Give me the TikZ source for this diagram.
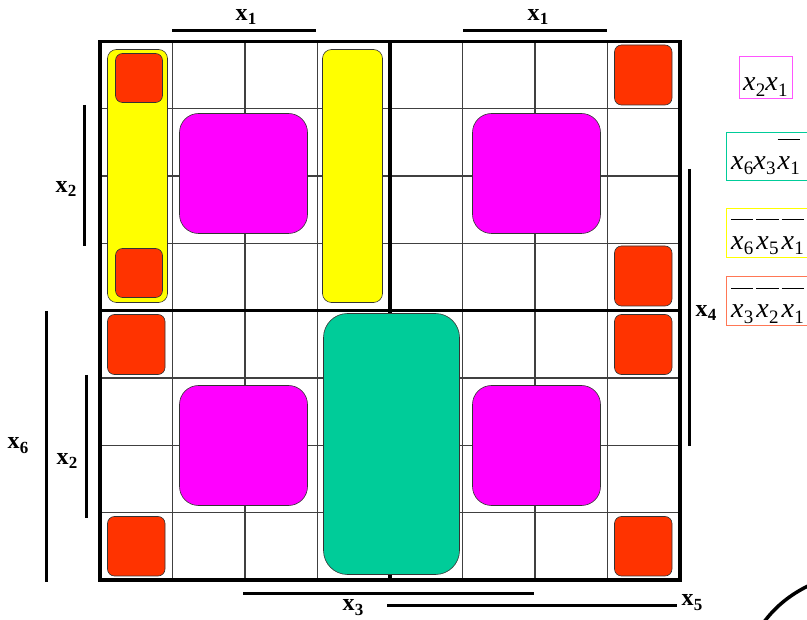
\documentclass[tikz,border=0pt]{standalone}
\usepackage{fontspec}
\setmainfont{Liberation Serif}
\newcommand\bx[1]{\textbf{x}\kern0.3pt\raisebox{-0.45ex}{\fontsize{17}{17}\selectfont\bfseries #1}}
\newcommand\ix[1]{\textit{x}\kern0.3pt\raisebox{-0.4ex}{\fontsize{19}{19}\selectfont #1}}
\newsavebox\oxbox
\newcommand\ox[1]{\sbox\oxbox{\ix{#1}}\rlap{\raisebox{1.04em}{\rule{\wd\oxbox}{0.9pt}}}\usebox\oxbox\kern3pt}
\definecolor{kred}{HTML}{FF3300}
\definecolor{kmag}{HTML}{FF00FF}
\definecolor{kyel}{HTML}{FFFF00}
\definecolor{kgrn}{HTML}{00CC99}
\definecolor{kcor}{HTML}{FF7755}
\definecolor{kmagb}{HTML}{FF55FF}
\begin{document}
\begin{tikzpicture}[x=1pt,y=-1pt,
  gridthin/.style={draw=black!75, line width=1.3pt},
  gridthick/.style={draw=black, line width=3.2pt},
  redbox/.style={fill=kred, draw=black!80, line width=0.6pt, rounded corners=7pt},
  magbox/.style={fill=kmag, draw=black!80, line width=0.6pt, rounded corners=19pt},
  yelbox/.style={fill=kyel, draw=black!80, line width=0.6pt, rounded corners=9pt},
  grnbox/.style={fill=kgrn, draw=black!80, line width=0.6pt, rounded corners=24pt},
  bar/.style={draw=black, line width=3pt},
  lab/.style={font=\fontsize{24}{24}\selectfont, inner sep=0pt},
  leg/.style={font=\fontsize{28}{28}\selectfont, inner sep=0pt, anchor=base west},
  legbox/.style={line width=1pt}
]
\useasboundingbox (0,0) rectangle (807,620);
% thin grid
\foreach \i in {1,2,3,5,6,7} {
  \draw[gridthin] ({100+72.5*\i},41.5) -- ({100+72.5*\i},580);
  \draw[gridthin] (100,{41.5+67.3125*\i}) -- (680,{41.5+67.3125*\i});
}
% thick grid
\draw[gridthick] (100,41.5) rectangle (680,580);
\draw[gridthick] (390,41.5) -- (390,580);
\draw[gridthick] (100,310.75) -- (680,310.75);
% yellow groups
\draw[yelbox] (107.5,49.5) rectangle (167.5,302.5);
\draw[yelbox] (322.5,49.5) rectangle (382.5,302.5);
% red squares
\draw[redbox] (115.5,53.5) rectangle (162.5,102.5);
\draw[redbox] (115.5,248.5) rectangle (162.5,297.5);
\draw[redbox] (614.5,45) rectangle (672,105);
\draw[redbox] (614.5,246) rectangle (672,306);
\draw[redbox] (107.5,314.5) rectangle (165,374.5);
\draw[redbox] (107.5,516.5) rectangle (165,576);
\draw[redbox] (614.5,314.5) rectangle (672,374.5);
\draw[redbox] (614.5,516.5) rectangle (672,576);
% magenta
\draw[magbox] (179.5,113.5) rectangle (307.5,233.5);
\draw[magbox] (472.5,113.5) rectangle (600.5,233.5);
\draw[magbox] (179.5,385.5) rectangle (307.5,505.5);
\draw[magbox] (472.5,385.5) rectangle (600.5,505.5);
% green
\draw[grnbox] (323.5,313.5) rectangle (459.5,574.5);
% variable bars
\draw[bar] (172,30.5) -- (316,30.5);
\node[lab] (t1) at (246,17) {\bx{1}};
\draw[bar] (463,30.5) -- (607,30.5);
\node[lab] (t2) at (538,17) {\bx{1}};
\draw[bar] (84.5,105) -- (84.5,246);
\node[lab] (l1) at (66,189) {\bx{2}};
\draw[bar] (46,311) -- (46,582);
\node[lab] (l2) at (18,446) {\bx{6}};
\draw[bar] (86,375) -- (86,518);
\node[lab] (l3) at (67,461) {\bx{2}};
\draw[bar] (689.5,169) -- (689.5,446);
\node[lab] (r1) at (706,313) {\bx{4}};
\draw[bar] (243,594) -- (534,594);
\node[lab] (b1) at (353,608) {\bx{3}};
\draw[bar] (387,605.5) -- (677,605.5);
\node[lab] (b2) at (692,603) {\bx{5}};
% legend
\draw[legbox, draw=kmagb] (739,56.5) rectangle (792.5,98.5);
\node[leg] (g1) at (743,91) {\ix{2}\ix{1}};
\draw[legbox, draw=kgrn] (726.5,132.5) rectangle (812,181);
\node[leg] (g2) at (731,169.5) {\ix{6}\ix{3}\kern2pt\ox{1}};
\draw[legbox, draw=kyel] (726,208.5) rectangle (812,257.5);
\node[leg] (g3) at (731,249.5) {\ox{6}\ox{5}\ox{1}};
\draw[legbox, draw=kcor] (726,277) rectangle (812,326);
\node[leg] (g4) at (731,318) {\ox{3}\ox{2}\ox{1}};
% logo arc
\draw[line width=3.5pt] (764,622) .. controls (776,606) and (791,594) .. (810,585);
\end{tikzpicture}
\end{document}
